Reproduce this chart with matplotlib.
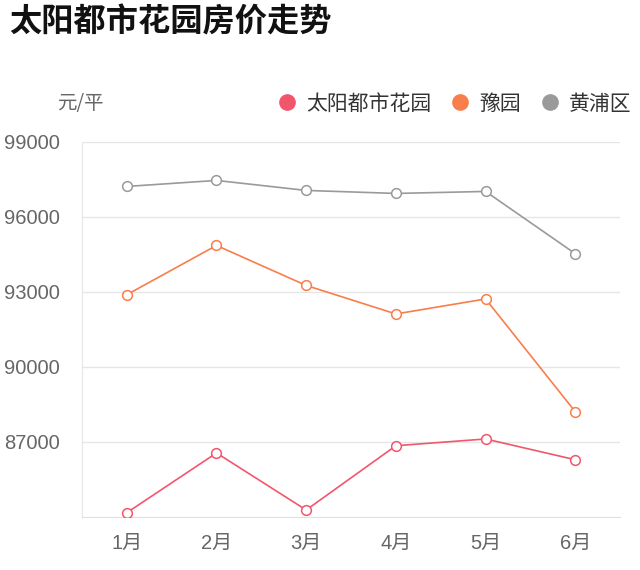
import matplotlib
matplotlib.use("Agg")
import matplotlib.pyplot as plt
from matplotlib.lines import Line2D

plt.rcParams["font.family"] = ["Liberation Sans", "Noto Sans CJK SC", "DejaVu Sans"]

# 数据
meses = ["1月", "2月", "3月", "4月", "5月", "6月"]
taiyang = [84170, 86560, 84280, 86850, 87120, 86290]
yuyuan = [92890, 94860, 93260, 92120, 92720, 88210]
huangpu = [97220, 97460, 97060, 96940, 97020, 94530]
series = ["太阳都市花园", "豫园", "黄浦区"]
colores = ["#f2566c", "#fa7d4c", "#9a9a9a"]
yticks = [87000, 90000, 93000, 96000, 99000]

fig = plt.figure(figsize=(6.4, 5.7), dpi=100)
ax = fig.add_axes([0.128, 0.093, 0.841, 0.658])

x = range(len(meses))
for vals, col in zip([taiyang, yuyuan, huangpu], colores):
    ax.plot(x, vals, color=col, lw=1.2, marker="o", ms=7,
            mfc="white", mec=col, mew=1.1, zorder=3)

ax.set_xlim(-0.5, len(meses) - 0.5)
ax.set_ylim(84000, 99000)
ax.set_xticks(list(x))
ax.set_xticklabels(meses)
ax.set_yticks(yticks)
ax.set_yticklabels([str(v) for v in yticks])
ax.tick_params(length=0, labelsize=14.5, colors="#666666", pad=12)
ax.tick_params(axis="y", pad=16)
ax.grid(axis="y", color="#e6e6e6", lw=1)
for s in ["top", "right"]:
    ax.spines[s].set_visible(False)
ax.spines["left"].set_color("#e6e6e6")
ax.spines["bottom"].set_color("#e0e0e0")

fig.text(0.014, 0.962, "太阳都市花园房价走势", fontsize=23.2, fontweight="bold",
         color="#111111", va="center", family=["Noto Sans CJK SC", "DejaVu Sans"])
fig.text(0.089, 0.818, "元/平", fontsize=14, color="#666666", va="center",
         family=["Noto Sans CJK SC", "DejaVu Sans"])

handles = [Line2D([], [], ls="none", marker="o", ms=11, mfc=c, mec=c)
           for c in colores]
leg = fig.legend(handles, series, loc="center right", bbox_to_anchor=(1.016, 0.818),
                 ncol=3, frameon=False, handlelength=0.8,
                 handletextpad=0.5, columnspacing=1.0,
                 prop={"family": ["Noto Sans CJK SC", "DejaVu Sans"], "size": 15})
for t in leg.get_texts():
    t.set_color("#333333")

fig.savefig("out.png", dpi=100)
